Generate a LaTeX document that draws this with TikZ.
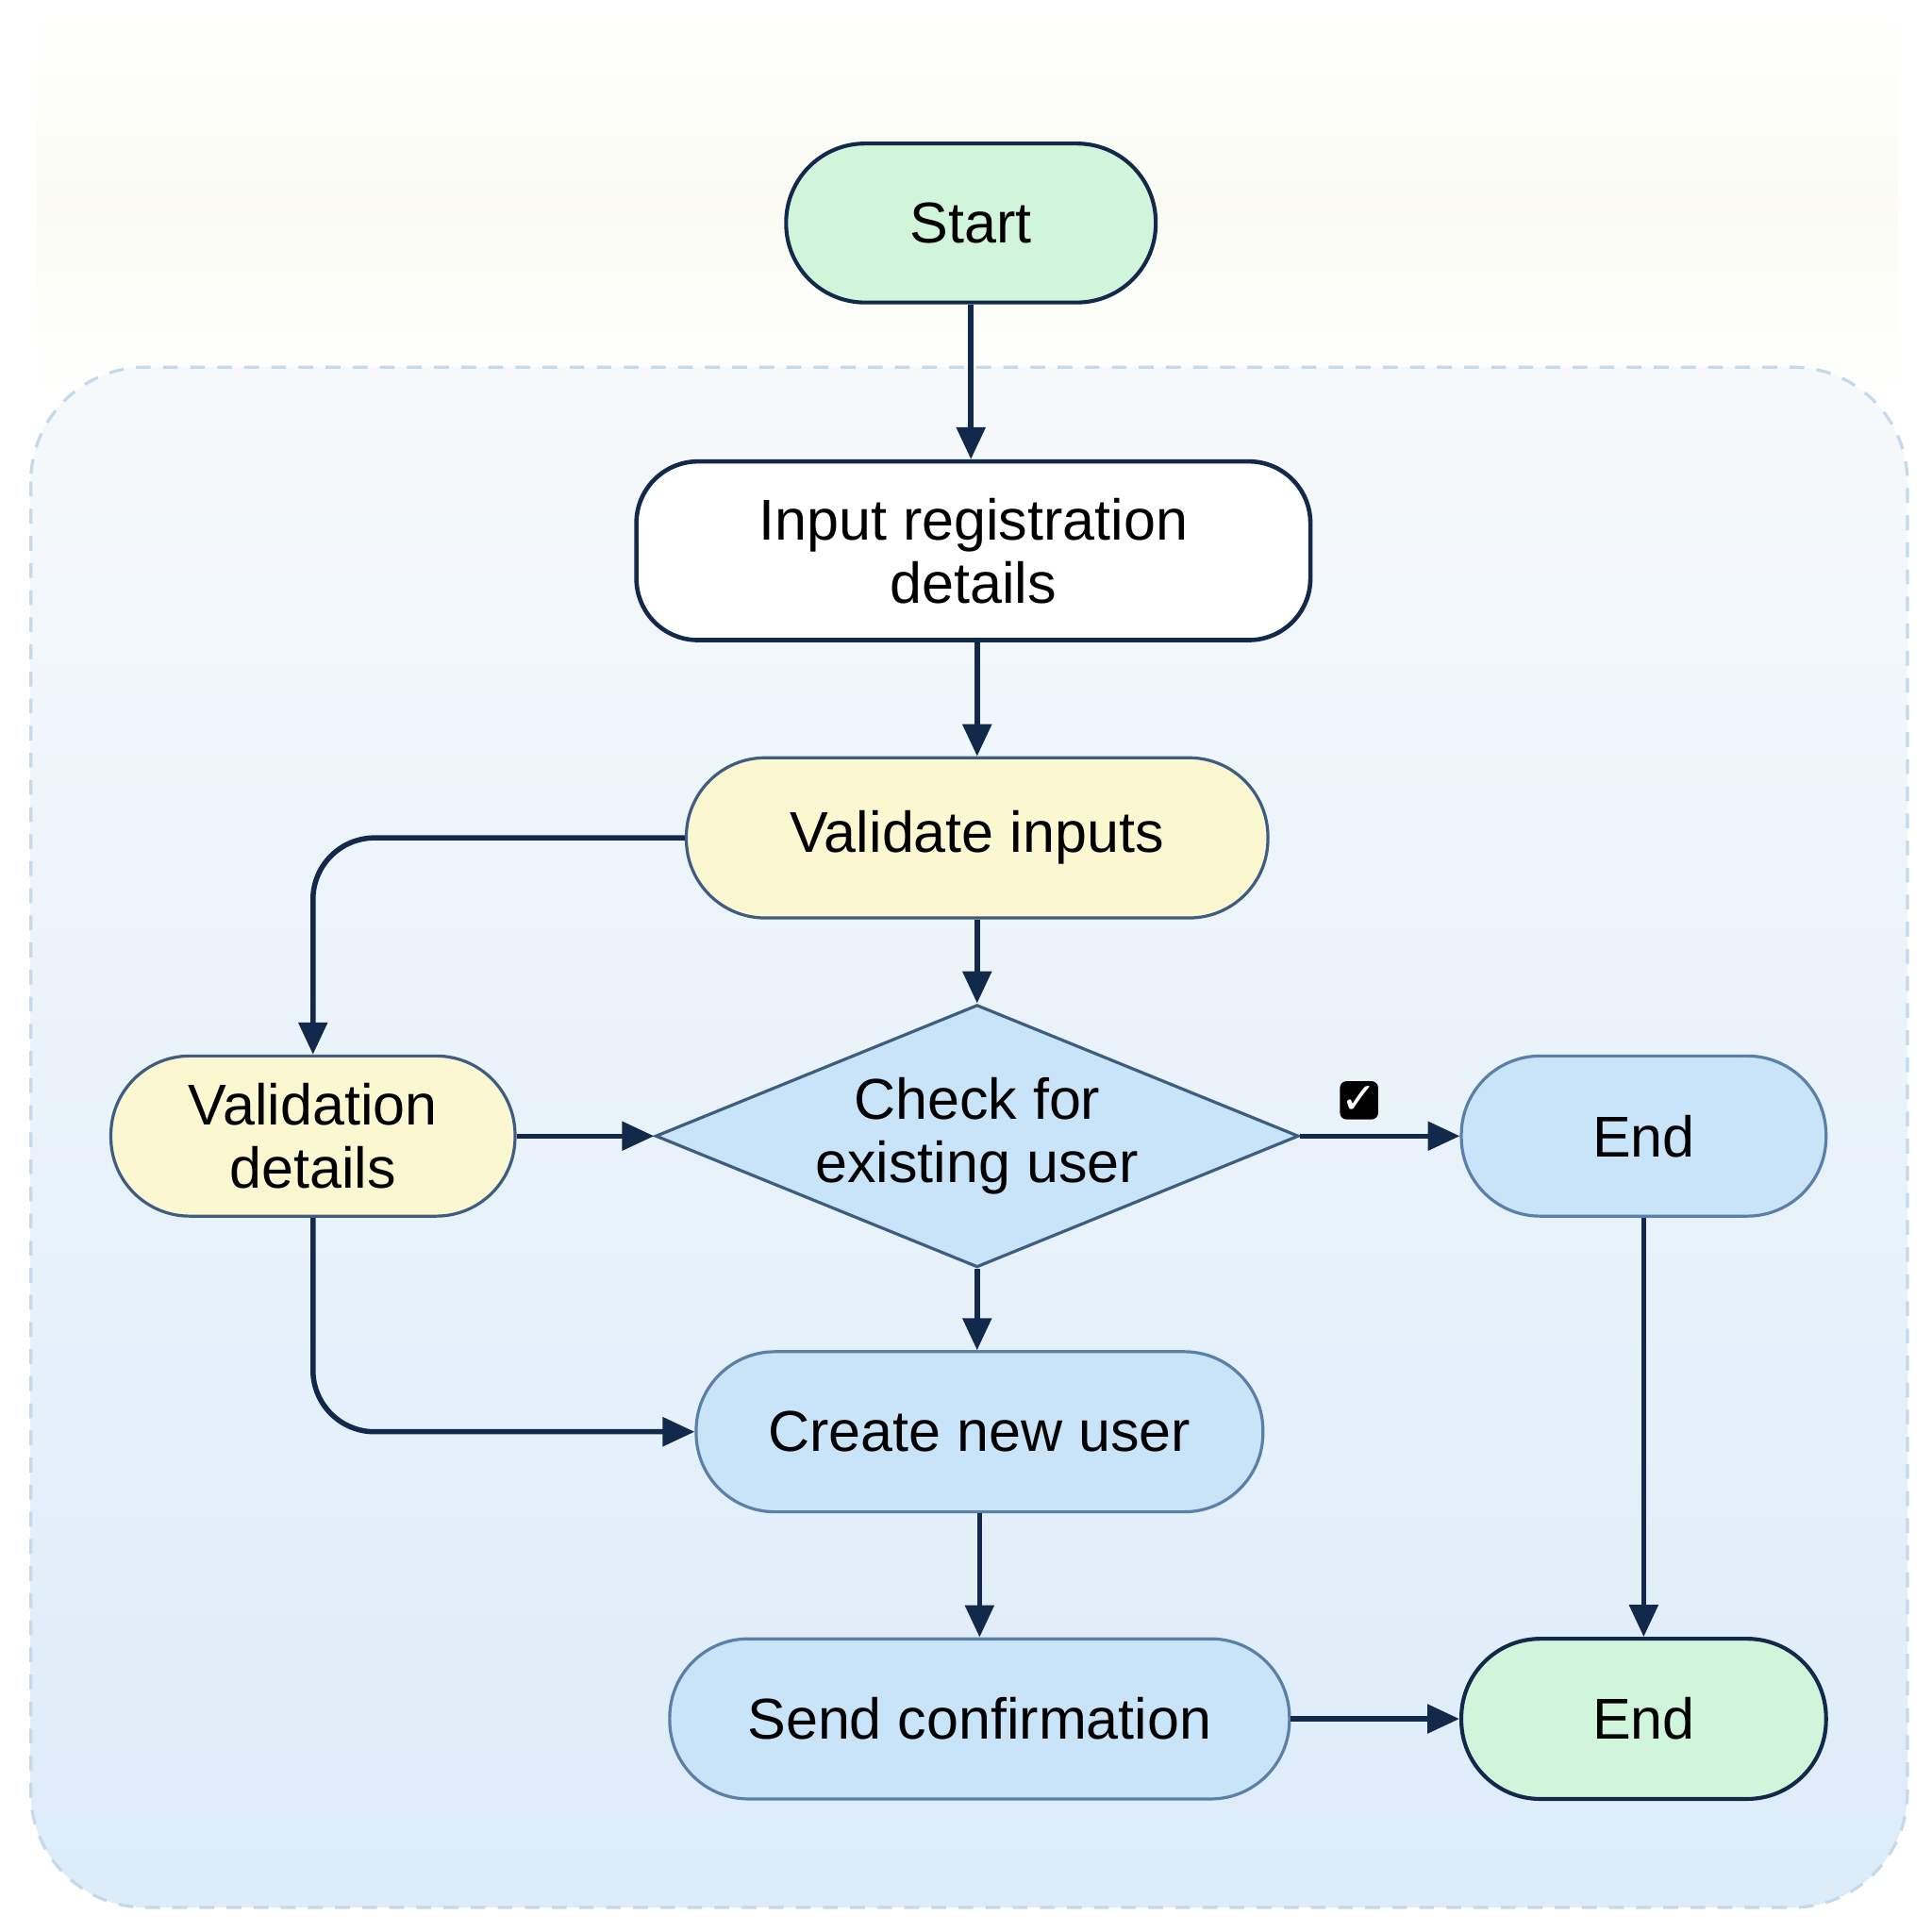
\documentclass[tikz,border=0pt]{standalone}
\usepackage{fontspec}
\setmainfont{Liberation Sans}
\usetikzlibrary{shapes.geometric,arrows.meta}
\definecolor{navy}{HTML}{13294B}
\definecolor{slate}{HTML}{3F5C82}
\definecolor{steel}{HTML}{5A80AA}
\definecolor{mint}{HTML}{D1F5DB}
\definecolor{cream}{HTML}{FBF8D1}
\definecolor{sky}{HTML}{C9E4F8}
\definecolor{frame}{HTML}{C4D9EB}
\definecolor{haze}{HTML}{F6F9FB}
\definecolor{deep}{HTML}{DCECF9}
\definecolor{wash}{HTML}{FBFBF4}
\begin{document}
\begin{tikzpicture}[
    every node/.style={font=\fontsize{13.3}{14.6}\selectfont, align=center, inner sep=0pt},
    pill/.style={draw, rounded corners=0.64cm, minimum height=1.30cm},
    link/.style={draw=navy, line width=1.2pt, -{Triangle[length=2.6mm,width=2.3mm]}}]
\useasboundingbox (0,0) rectangle (15.68,-15.68);
\fill[white] (0,0) rectangle (15.68,-15.68);
\shade[top color=white, bottom color=white, middle color=wash] (0.3,0) rectangle (15.4,-3.3);
\path[draw=frame, line width=0.7pt, dash pattern=on 0.12cm off 0.10cm,
    rounded corners=0.93cm, top color=haze, bottom color=deep]
    (0.25,-2.98) rectangle (15.48,-15.48);

\node (start) [pill, draw=navy, line width=0.9pt, fill=mint, minimum width=3.00cm,
    minimum height=1.29cm] at (7.88,-1.81) {Start};
\node (input) [draw=navy, line width=1pt, fill=white, rounded corners=0.5cm,
    minimum width=5.47cm, minimum height=1.45cm] at (7.90,-4.47) {Input registration\\details};
\node (valid) [pill, draw=slate, line width=0.7pt, fill=cream, minimum width=4.72cm] at (7.93,-6.80) {Validate inputs};
\node (check) [diamond, aspect=2.45, draw=slate, line width=0.7pt, fill=sky,
    minimum width=5.22cm, minimum height=2.13cm] at (7.93,-9.22) {Check for\\existing user};
\node (vdet) [pill, draw=slate, line width=0.7pt, fill=cream, minimum width=3.28cm] at (2.54,-9.22) {Validation\\details};
\node (endA) [pill, draw=steel, line width=0.7pt, fill=sky, minimum width=2.96cm] at (13.34,-9.22) {End};
\node (create) [pill, draw=steel, line width=0.7pt, fill=sky, minimum width=4.60cm] at (7.95,-11.62) {Create new user};
\node (send) [pill, draw=steel, line width=0.7pt, fill=sky, minimum width=5.03cm] at (7.95,-13.95) {Send confirmation};
\node (endB) [pill, draw=navy, line width=0.9pt, fill=mint, minimum width=2.96cm] at (13.34,-13.95) {End};
\node (tick) [fill=black, text=white, rounded corners=1.5pt, minimum size=0.31cm,
    font=\fontspec{DejaVu Sans}\bfseries\fontsize{10}{10}\selectfont] at (11.03,-8.93) {✓};

\draw[link] (start) -- (start |- input.north);
\draw[link] (input.south -| valid) -- (valid);
\draw[link] (valid) -- (check);
\draw[link, rounded corners=0.5cm] (valid.west) -| (vdet.north);
\draw[link] (vdet) -- (check);
\draw[link] (check) -- (endA);
\draw[link] (check.south) -- (check.south |- create.north);
\draw[link, rounded corners=0.5cm] (vdet.south) |- (create.west);
\draw[link] (create) -- (send);
\draw[link] (send) -- (endB);
\draw[link] (endA) -- (endB);
\end{tikzpicture}
\end{document}
